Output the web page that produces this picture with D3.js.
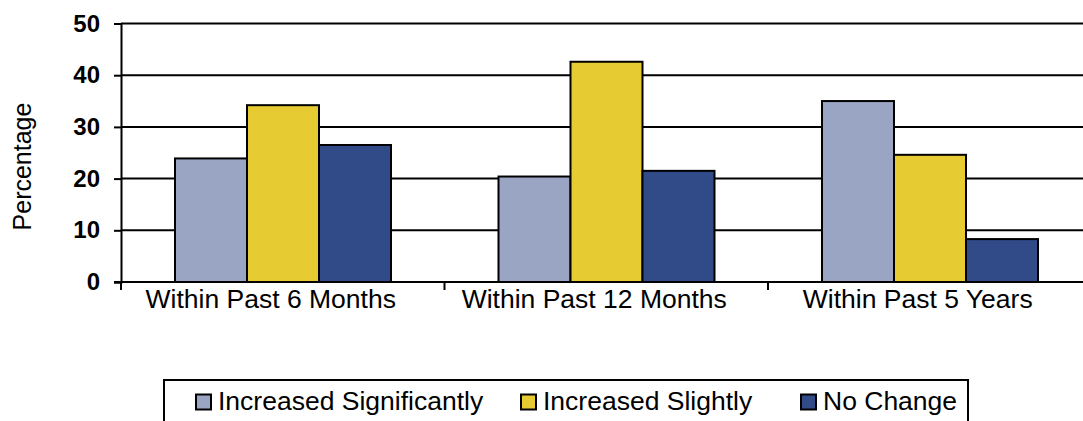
<!DOCTYPE html>
<html>
<head>
<meta charset="utf-8">
<script src="https://cdn.jsdelivr.net/npm/d3@7/dist/d3.min.js"></script>
<style>
  html, body { margin: 0; padding: 0; background: #fff; }
  svg { display: block; font-family: "Liberation Sans", Arial, sans-serif; }
</style>
</head>
<body>
<script>
const categories = ["Within Past 6 Months", "Within Past 12 Months", "Within Past 5 Years"];
const seriesNames = ["Increased Significantly", "Increased Slightly", "No Change"];
const increasedSignificantly = [23.9, 20.4, 35.0];
const increasedSlightly = [34.2, 42.6, 24.6];
const noChange = [26.5, 21.5, 8.3];
const seriesColors = ["#99A5C2", "#E7CB32", "#314B88"];
const yTicks = [0, 10, 20, 30, 40, 50];

const W = 1083, H = 421;
const svg = d3.select("body").append("svg").attr("width", W).attr("height", H);

const x0 = d3.scaleBand().domain(categories).range([121, 1091.5]).paddingInner(0).paddingOuter(0);
const groupPad = 54;
const x1 = d3.scaleBand().domain(seriesNames).range([groupPad, x0.bandwidth() - groupPad + 0.5]).padding(0);
const y = d3.scaleLinear().domain([0, 50]).range([282, 23.5]);

const series = [increasedSignificantly, increasedSlightly, noChange];

// gridlines
svg.append("g").selectAll("line").data(yTicks.filter(d => d > 0)).join("line")
  .attr("x1", 121).attr("x2", W + 20)
  .attr("y1", d => y(d)).attr("y2", d => y(d))
  .attr("stroke", "#000").attr("stroke-width", 2);

// y axis
const yAxis = svg.append("g").attr("transform", "translate(121,0)")
  .call(d3.axisLeft(y).tickValues(yTicks).tickSize(7).tickPadding(14).tickFormat(d3.format("d")));
yAxis.select(".domain").attr("stroke", "#000").attr("stroke-width", 2);
yAxis.selectAll(".tick line").attr("stroke", "#000").attr("stroke-width", 2);
yAxis.selectAll(".tick text").attr("fill", "#000")
  .style("font-family", "'Liberation Sans', Arial, sans-serif")
  .style("font-weight", "bold").style("font-size", "24px");

// bars
const groups = svg.append("g").selectAll("g").data(categories).join("g")
  .attr("transform", d => `translate(${x0(d)},0)`);
groups.selectAll("rect").data((c, i) => seriesNames.map((s, j) => ({ s, j, v: series[j][i] })))
  .join("rect")
  .attr("x", d => x1(d.s))
  .attr("width", x1.bandwidth())
  .attr("y", d => y(d.v))
  .attr("height", d => y(0) - y(d.v))
  .attr("fill", d => seriesColors[d.j])
  .attr("stroke", "#000").attr("stroke-width", 2);

// x axis
const xAxis = svg.append("g").attr("transform", "translate(0,282)");
xAxis.append("line").attr("x1", 114).attr("x2", W + 20).attr("y1", 0).attr("y2", 0)
  .attr("stroke", "#000").attr("stroke-width", 2);
const boundaries = categories.map(c => x0(c)).concat([x0(categories[categories.length - 1]) + x0.bandwidth()]);
xAxis.selectAll("line.tk").data(boundaries).join("line").attr("class", "tk")
  .attr("x1", d => d).attr("x2", d => d).attr("y1", 0).attr("y2", 8)
  .attr("stroke", "#000").attr("stroke-width", 2);
xAxis.selectAll("text").data(categories).join("text")
  .attr("x", d => x0(d) + x0.bandwidth() / 2 - 12)
  .attr("y", 26)
  .attr("text-anchor", "middle")
  .style("font-size", "26.5px").attr("fill", "#000")
  .text(d => d);

// y axis title
svg.append("text")
  .attr("transform", "translate(31,166.5) rotate(-90)")
  .attr("text-anchor", "middle")
  .style("font-size", "25px").attr("fill", "#000")
  .text("Percentage");

// legend
const lg = svg.append("g");
lg.append("rect").attr("x", 164).attr("y", 380).attr("width", 804).attr("height", 60)
  .attr("fill", "#fff").attr("stroke", "#000").attr("stroke-width", 2);
const legendX = [196, 521, 801];
seriesNames.forEach((s, j) => {
  lg.append("rect").attr("x", legendX[j]).attr("y", 394.5).attr("width", 15).attr("height", 15)
    .attr("fill", seriesColors[j]).attr("stroke", "#000").attr("stroke-width", 2);
  lg.append("text").attr("x", legendX[j] + 22).attr("y", 410)
    .style("font-size", "26.5px").attr("fill", "#000").text(s);
});
</script>
</body>
</html>
